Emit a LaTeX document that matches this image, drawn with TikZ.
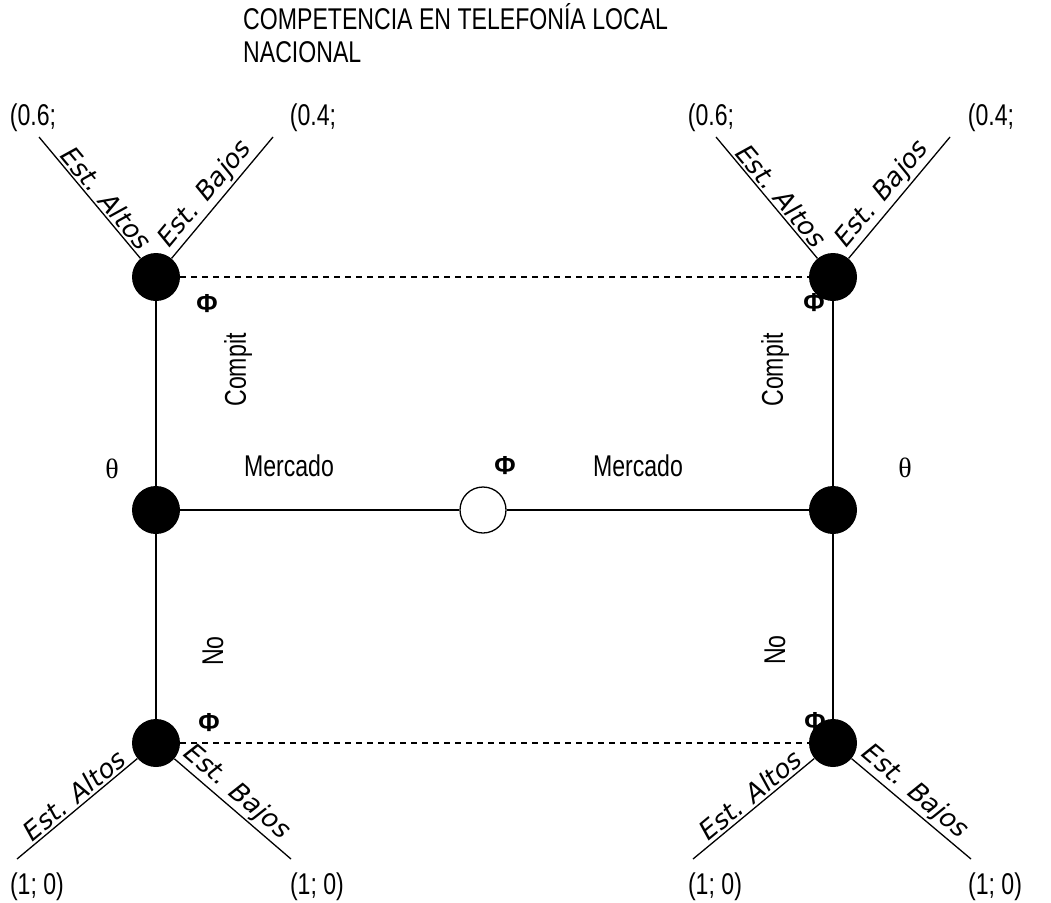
\documentclass[tikz,border=0pt]{standalone}
\usepackage{fontspec}
\setmainfont{Liberation Sans}[FakeStretch=0.77]
\newfontfamily\estfont{DejaVu Sans}
\newfontfamily\thfont{Liberation Serif}
\newfontfamily\phifont{Liberation Sans}
\begin{document}
\begin{tikzpicture}[x=1pt,y=-1pt,
  dot/.style={circle,fill=black,minimum size=48pt,inner sep=0pt},
  odot/.style={circle,draw,fill=white,line width=1.3pt,minimum size=46pt,inner sep=0pt},
  edge/.style={line width=1.3pt},
  dedge/.style={line width=1.3pt,dash pattern=on 6pt off 5pt},
  lbl/.style={font=\fontsize{30}{33}\selectfont,inner sep=0pt},
  est/.style={font=\estfont\itshape\fontsize{26}{30}\selectfont,sloped,above,inner sep=2pt},
  phi/.style={font=\phifont\bfseries\fontsize{26}{30}\selectfont,inner sep=0pt},
  th/.style={font=\thfont\fontsize{28}{32}\selectfont,inner sep=0pt}]
\useasboundingbox (0,0) rectangle (1051,902);
% title
\node[lbl,anchor=north west,align=left] (title) at (243,3)
  {COMPETENCIA EN TELEFONÍA LOCAL\\NACIONAL};
% nodes
\node[dot] (TL) at (156,277) {};
\node[dot] (TR) at (833,277) {};
\node[dot] (ML) at (156,510) {};
\node[dot] (MR) at (833,510) {};
\node[odot] (MC) at (483,510) {};
\node[dot] (BL) at (156,743) {};
\node[dot] (BR) at (833,743) {};
% branch ends
\coordinate (tla) at (39,137);
\coordinate (tlb) at (273,137);
\coordinate (tra) at (716,137);
\coordinate (trb) at (950,137);
\coordinate (bla) at (17,859);
\coordinate (blb) at (291,859);
\coordinate (bra) at (693,859);
\coordinate (brb) at (971,859);
% main edges
\draw[edge] (TL) -- (ML);
\draw[edge] (ML) -- (BL);
\draw[edge] (TR) -- (MR);
\draw[edge] (MR) -- (BR);
\draw[edge] (ML) -- (MC);
\draw[edge] (MC) -- (MR);
\draw[dedge] (TL) -- (TR);
\draw[dedge] (BL) -- (BR);
% branches
\draw[edge] (tla) -- node[est,pos=0.57] {Est. Altos} (TL);
\draw[edge] (TL) -- node[est,pos=0.45] {Est. Bajos} (tlb);
\draw[edge] (tra) -- node[est,pos=0.55] {Est. Altos} (TR);
\draw[edge] (TR) -- node[est,pos=0.45] {Est. Bajos} (trb);
\draw[edge] (bla) -- node[est,pos=0.54] {Est. Altos} (BL);
\draw[edge] (BL) -- node[est,pos=0.45] {Est. Bajos} (blb);
\draw[edge] (bra) -- node[est,pos=0.54] {Est. Altos} (BR);
\draw[edge] (BR) -- node[est,pos=0.45] {Est. Bajos} (brb);
% payoffs
\node[lbl] (p1) at (33,118) {(0.6;};
\node[lbl] (p2) at (313,118) {(0.4;};
\node[lbl] (p3) at (711,118) {(0.6;};
\node[lbl] (p4) at (991,118) {(0.4;};
\node[lbl] (p5) at (37,887) {(1; 0)};
\node[lbl] (p6) at (317,887) {(1; 0)};
\node[lbl] (p7) at (715,887) {(1; 0)};
\node[lbl] (p8) at (995,887) {(1; 0)};
% labels
\node[lbl,rotate=90] (c1) at (238,370) {Compit};
\node[lbl,rotate=90] (c2) at (775,370) {Compit};
\node[lbl,rotate=90] (n1) at (213,651) {No};
\node[lbl,rotate=90] (n2) at (775,650) {No};
\node[lbl] (m1) at (289,466) {Mercado};
\node[lbl] (m2) at (638,466) {Mercado};
\node[th] (t1) at (112,469) {θ};
\node[th] (t2) at (905,468) {θ};
\node[phi] (f1) at (207,304) {Φ};
\node[phi] (f2) at (814,303) {Φ};
\node[phi] (f3) at (505,466) {Φ};
\node[phi] (f4) at (209,723) {Φ};
\node[phi] (f5) at (815,722) {Φ};
\end{tikzpicture}
\end{document}
